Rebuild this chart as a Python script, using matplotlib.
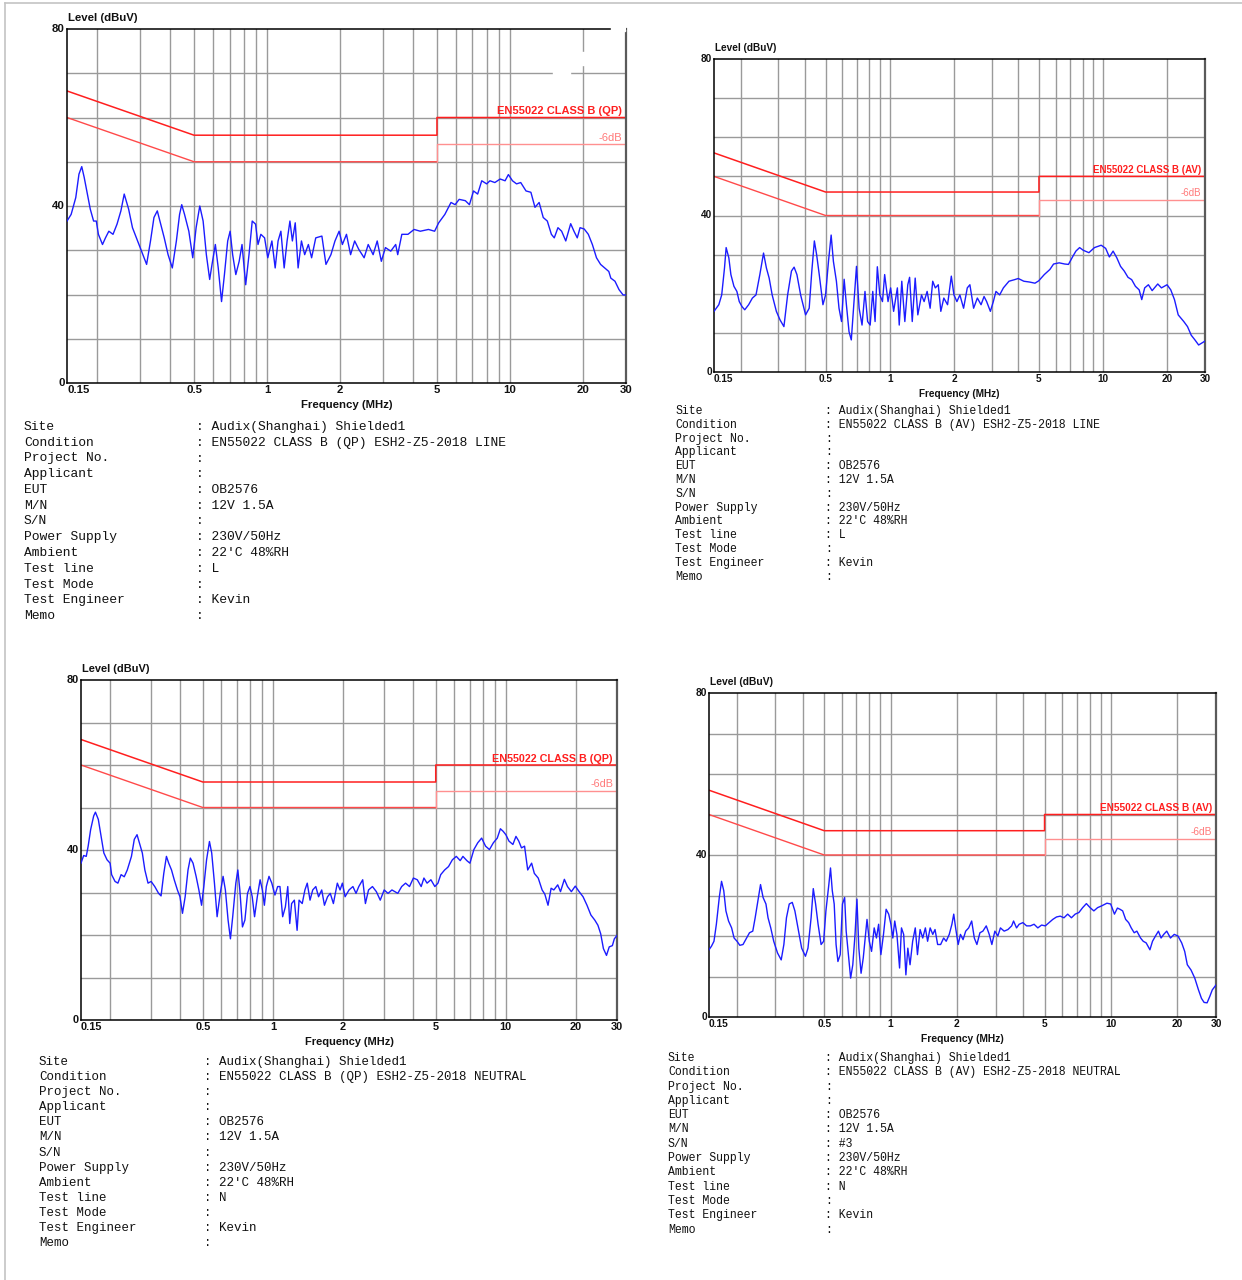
import matplotlib
matplotlib.use('Agg')
import matplotlib.pyplot as plt
from matplotlib.lines import Line2D
from matplotlib.patches import Rectangle

W, H = 1242, 1280

# ---------------- data ----------------
tl_freq = [0.150, 0.156, 0.163, 0.168, 0.1725, 0.1765, 0.182, 0.187, 0.193, 0.198,
           0.202, 0.210, 0.216, 0.223, 0.232, 0.241, 0.250, 0.258, 0.269, 0.279,
           0.293, 0.304, 0.319, 0.331, 0.342, 0.353, 0.362, 0.377, 0.391, 0.407,
           0.423, 0.436, 0.445, 0.457, 0.476, 0.494, 0.510, 0.528, 0.545, 0.562,
           0.580, 0.593, 0.612, 0.629, 0.649, 0.667, 0.688, 0.704, 0.721, 0.743,
           0.767, 0.788, 0.816, 0.842, 0.868, 0.896, 0.917, 0.942, 0.976, 1.006,
           1.046, 1.079, 1.109, 1.139, 1.175, 1.208, 1.241, 1.270, 1.305, 1.341,
           1.384, 1.427, 1.478, 1.524, 1.585, 1.680, 1.746, 1.830, 1.902, 1.978,
           2.040, 2.121, 2.205, 2.292, 2.383, 2.507, 2.606, 2.730, 2.838, 2.951,
           3.068, 3.227, 3.381, 3.447, 3.584, 3.798, 4.026, 4.269, 4.613, 4.890,
           5.083, 5.388, 5.712, 5.937, 6.172, 6.543, 6.802, 7.071, 7.353, 7.644,
           8.009, 8.261, 8.654, 9.103, 9.537, 9.839, 10.23, 10.63, 11.06, 11.63,
           12.18, 12.66, 13.17, 13.69, 14.23, 14.79, 15.20, 15.74, 16.30, 16.95,
           17.76, 18.32, 18.90, 19.41, 20.19, 20.99, 21.81, 22.68, 23.58, 24.51,
           25.49, 25.98, 27.02, 28.08, 29.19, 30.0]
tl_level = [36.6, 38.1, 41.9, 47.2, 48.9, 46.5, 42.7, 39.3, 36.6, 36.6,
            33.6, 31.3, 32.8, 34.3, 33.6, 35.9, 38.9, 42.7, 39.3, 35.1,
            32.1, 29.8, 26.8, 32.1, 37.4, 38.9, 36.6, 32.8, 29.0, 26.0,
            32.1, 38.1, 40.3, 38.1, 34.3, 28.3, 35.1, 40.0, 36.6, 29.0,
            23.4, 26.8, 31.3, 26.0, 18.4, 24.5, 32.1, 34.3, 29.0, 24.5,
            27.5, 31.3, 22.2, 29.0, 36.6, 35.9, 31.3, 33.6, 32.8, 28.3,
            32.1, 26.0, 32.1, 34.3, 26.0, 32.1, 36.6, 32.1, 36.2, 26.0,
            32.1, 29.0, 31.3, 28.3, 32.8, 33.2, 26.8, 29.0, 32.1, 34.3,
            31.3, 33.6, 29.0, 32.1, 30.2, 28.3, 31.3, 29.0, 32.1, 27.5,
            30.6, 29.8, 31.3, 29.0, 33.6, 33.6, 34.7, 34.3, 34.7, 34.3,
            36.2, 38.1, 40.8, 40.3, 41.5, 41.2, 40.3, 43.4, 42.7, 45.7,
            45.0, 45.7, 45.3, 46.1, 45.7, 47.1, 45.7, 45.0, 45.3, 43.4,
            43.1, 39.7, 40.8, 37.4, 36.6, 33.6, 32.8, 35.1, 34.3, 32.1,
            36.0, 34.3, 32.8, 35.1, 34.8, 33.6, 31.3, 28.3, 26.8, 26.0,
            25.2, 23.7, 23.0, 21.1, 19.9, 19.9]

tr_freq = [0.150, 0.158, 0.163, 0.168, 0.171, 0.176, 0.180, 0.186, 0.192, 0.197,
           0.203, 0.209, 0.218, 0.227, 0.236, 0.246, 0.256, 0.264, 0.272, 0.281,
           0.294, 0.306, 0.319, 0.332, 0.346, 0.356, 0.367, 0.382, 0.403, 0.419,
           0.431, 0.443, 0.454, 0.467, 0.486, 0.500, 0.516, 0.531, 0.544, 0.562,
           0.578, 0.594, 0.611, 0.626, 0.644, 0.660, 0.676, 0.698, 0.718, 0.741,
           0.765, 0.787, 0.809, 0.832, 0.853, 0.874, 0.898, 0.924, 0.946, 0.981,
           1.009, 1.042, 1.085, 1.107, 1.138, 1.176, 1.214, 1.238, 1.274, 1.315,
           1.353, 1.408, 1.448, 1.496, 1.545, 1.589, 1.634, 1.687, 1.734, 1.791,
           1.865, 1.942, 1.998, 2.063, 2.130, 2.217, 2.307, 2.373, 2.470, 2.572,
           2.677, 2.765, 2.843, 2.960, 3.056, 3.144, 3.272, 3.406, 3.618, 3.842,
           3.999, 4.247, 4.510, 4.790, 4.986, 5.296, 5.625, 5.855, 6.219, 6.603,
           6.874, 7.215, 7.449, 7.753, 8.070, 8.572, 9.103, 9.786, 10.27, 10.69,
           11.13, 11.58, 12.06, 12.55, 13.07, 13.60, 14.16, 14.74, 15.16, 15.65,
           16.29, 16.96, 18.02, 18.75, 19.92, 20.73, 21.58, 22.47, 23.86, 24.84,
           25.86, 26.91, 28.01, 28.81, 30.0]
tr_level = [15.5, 17.2, 19.7, 26.6, 31.8, 29.2, 24.9, 21.9, 20.6, 18.0,
            16.7, 15.9, 17.2, 18.9, 19.7, 24.9, 30.4, 26.6, 24.0, 19.7,
            15.5, 13.3, 11.6, 19.7, 25.8, 26.8, 24.9, 19.7, 14.6, 16.3,
            25.8, 33.5, 30.0, 24.9, 17.2, 19.7, 28.3, 35.0, 28.3, 23.2,
            16.3, 12.9, 23.7, 17.2, 10.3, 8.2, 16.3, 27.0, 16.3, 12.0,
            20.6, 12.9, 12.0, 20.6, 12.9, 26.9, 19.7, 18.0, 24.9, 18.0,
            21.5, 15.5, 21.5, 12.0, 23.2, 12.9, 22.3, 24.2, 12.9, 24.0,
            14.6, 19.7, 18.0, 20.6, 16.3, 23.2, 21.5, 22.3, 15.5, 18.9,
            17.2, 24.5, 19.7, 18.0, 19.7, 16.3, 21.5, 22.3, 16.3, 18.9,
            17.2, 19.3, 18.0, 15.5, 18.0, 20.6, 19.7, 21.5, 23.2, 23.6,
            23.9, 23.2, 23.0, 22.7, 23.3, 24.9, 26.2, 27.6, 27.9, 27.6,
            27.5, 29.6, 30.9, 31.8, 31.1, 30.5, 31.8, 32.4, 31.6, 29.4,
            30.9, 29.2, 27.0, 25.8, 24.2, 23.6, 21.9, 21.0, 18.5, 21.5,
            22.3, 20.8, 22.5, 21.5, 22.3, 21.0, 18.5, 14.6, 12.9, 11.6,
            9.4, 8.2, 6.9, 7.3, 7.9]

bl_freq = [0.150, 0.154, 0.158, 0.161, 0.165, 0.170, 0.173, 0.178, 0.183, 0.188,
           0.194, 0.200, 0.203, 0.210, 0.216, 0.223, 0.230, 0.237, 0.247, 0.254,
           0.261, 0.267, 0.275, 0.282, 0.291, 0.300, 0.311, 0.323, 0.331, 0.340,
           0.349, 0.357, 0.367, 0.377, 0.389, 0.399, 0.409, 0.420, 0.432, 0.442,
           0.454, 0.468, 0.481, 0.494, 0.505, 0.519, 0.534, 0.546, 0.561, 0.576,
           0.594, 0.611, 0.625, 0.642, 0.657, 0.672, 0.693, 0.707, 0.721, 0.740,
           0.758, 0.778, 0.797, 0.815, 0.834, 0.857, 0.881, 0.901, 0.919, 0.937,
           0.962, 0.989, 1.020, 1.048, 1.072, 1.101, 1.131, 1.158, 1.181, 1.203,
           1.236, 1.270, 1.295, 1.336, 1.372, 1.404, 1.443, 1.482, 1.528, 1.570,
           1.620, 1.664, 1.716, 1.763, 1.818, 1.890, 1.942, 1.987, 2.041, 2.122,
           2.205, 2.274, 2.337, 2.429, 2.495, 2.573, 2.675, 2.780, 2.889, 3.003,
           3.120, 3.243, 3.436, 3.571, 3.711, 3.858, 4.009, 4.166, 4.330, 4.449,
           4.589, 4.767, 4.956, 5.111, 5.252, 5.459, 5.673, 5.895, 6.128, 6.369,
           6.542, 6.800, 7.011, 7.289, 7.575, 7.872, 8.183, 8.504, 8.839, 9.186,
           9.474, 9.734, 9.999, 10.31, 10.72, 11.05, 11.36, 11.67, 12.03, 12.41,
           12.90, 13.25, 13.77, 14.31, 14.70, 15.17, 15.64, 16.07, 16.70, 17.16,
           17.83, 18.39, 19.11, 19.86, 20.64, 21.45, 22.30, 23.18, 24.09, 24.84,
           25.53, 26.23, 27.04, 27.78, 28.66, 29.22, 30.0]
bl_level = [36.9, 38.7, 38.5, 40.9, 44.8, 48.0, 48.9, 47.2, 43.2, 39.3,
            37.7, 36.9, 34.2, 32.6, 32.2, 34.2, 33.7, 35.3, 38.5, 42.5,
            43.6, 41.7, 39.3, 35.3, 32.2, 32.6, 31.4, 29.8, 29.2, 34.5,
            38.5, 36.9, 35.3, 33.0, 30.6, 29.0, 25.1, 29.0, 35.3, 38.1,
            36.9, 33.8, 30.6, 27.0, 31.4, 37.7, 42.0, 39.3, 32.2, 24.3,
            29.8, 33.8, 30.6, 23.5, 19.1, 24.3, 32.2, 35.3, 30.6, 21.9,
            23.5, 29.8, 31.4, 29.0, 24.3, 29.0, 33.0, 30.6, 27.0, 31.4,
            33.8, 32.2, 29.4, 31.4, 31.4, 24.3, 26.6, 31.4, 22.7, 27.4,
            28.2, 21.1, 28.2, 27.4, 30.6, 32.2, 28.2, 30.6, 31.4, 29.0,
            30.6, 27.0, 29.0, 29.8, 27.4, 32.2, 30.6, 32.2, 29.0, 30.6,
            31.4, 29.8, 31.4, 33.0, 27.4, 30.6, 31.4, 30.2, 28.2, 30.6,
            29.8, 30.6, 29.8, 31.4, 32.2, 31.4, 33.4, 33.0, 31.4, 33.4,
            32.2, 33.0, 31.4, 32.2, 34.2, 35.3, 36.1, 37.7, 38.5, 37.5,
            38.5, 37.5, 36.9, 40.1, 41.7, 42.8, 40.9, 40.1, 41.7, 42.8,
            45.0, 44.4, 43.6, 42.1, 41.3, 43.2, 42.1, 40.5, 40.9, 35.3,
            36.9, 34.5, 33.4, 30.6, 29.6, 27.0, 31.0, 30.6, 31.8, 30.2,
            33.1, 31.4, 30.2, 31.5, 30.2, 29.0, 27.0, 24.7, 23.5, 22.3,
            20.3, 16.8, 15.2, 17.2, 17.5, 19.1, 19.9]

br_freq = [0.150, 0.154, 0.158, 0.162, 0.167, 0.171, 0.175, 0.179, 0.184, 0.190,
           0.195, 0.201, 0.207, 0.214, 0.222, 0.229, 0.237, 0.243, 0.250, 0.257,
           0.264, 0.272, 0.278, 0.286, 0.295, 0.307, 0.319, 0.328, 0.337, 0.347,
           0.358, 0.368, 0.380, 0.395, 0.411, 0.422, 0.436, 0.446, 0.457, 0.469,
           0.484, 0.497, 0.509, 0.525, 0.534, 0.544, 0.555, 0.566, 0.577, 0.591,
           0.605, 0.619, 0.629, 0.644, 0.659, 0.674, 0.690, 0.704, 0.718, 0.735,
           0.752, 0.767, 0.782, 0.801, 0.820, 0.843, 0.863, 0.883, 0.904, 0.929,
           0.955, 0.981, 1.004, 1.024, 1.045, 1.069, 1.099, 1.121, 1.147, 1.174,
           1.198, 1.226, 1.260, 1.295, 1.325, 1.362, 1.400, 1.439, 1.473, 1.513,
           1.555, 1.592, 1.636, 1.688, 1.742, 1.789, 1.847, 1.899, 1.936, 1.974,
           2.028, 2.076, 2.134, 2.193, 2.263, 2.335, 2.400, 2.466, 2.545, 2.625,
           2.719, 2.805, 2.883, 2.975, 3.069, 3.153, 3.279, 3.411, 3.546, 3.617,
           3.731, 3.834, 3.987, 4.145, 4.310, 4.482, 4.661, 4.847, 5.040, 5.241,
           5.450, 5.666, 5.891, 6.125, 6.369, 6.622, 6.886, 7.160, 7.446, 7.742,
           8.049, 8.370, 8.703, 9.051, 9.596, 9.979, 10.38, 10.71, 11.00, 11.31,
           11.67, 12.04, 12.37, 12.76, 13.12, 13.64, 14.02, 14.46, 15.04, 15.45,
           15.94, 16.44, 16.90, 17.37, 17.93, 18.64, 19.39, 20.16, 20.96, 21.63,
           22.23, 23.11, 24.03, 24.98, 25.77, 26.49, 27.33, 28.08, 28.86, 30.0]
br_level = [16.6, 17.5, 18.7, 22.9, 29.5, 33.5, 31.2, 26.2, 23.7, 22.0,
            19.5, 18.7, 17.7, 17.9, 19.5, 20.8, 21.2, 24.5, 28.7, 32.7,
            29.5, 27.9, 24.5, 22.0, 18.7, 15.8, 14.1, 17.9, 24.5, 27.9,
            28.3, 26.2, 22.0, 17.0, 15.0, 17.0, 24.5, 31.7, 27.9, 22.9,
            17.9, 18.7, 26.2, 32.8, 36.8, 31.2, 27.9, 17.9, 13.7, 15.4,
            27.9, 29.5, 21.2, 15.4, 9.6, 12.9, 20.4, 29.1, 17.0, 10.8,
            14.6, 19.5, 24.1, 18.7, 16.2, 22.0, 19.5, 22.9, 15.4, 20.4,
            26.6, 25.4, 22.9, 19.5, 23.7, 20.4, 12.1, 22.0, 20.4, 10.4,
            17.0, 12.9, 18.7, 22.0, 15.4, 21.6, 19.5, 22.0, 18.7, 22.0,
            20.4, 21.6, 17.9, 17.9, 19.5, 18.7, 20.4, 22.9, 25.4, 22.0,
            17.9, 20.4, 19.1, 21.2, 22.0, 23.7, 19.5, 17.9, 20.8, 21.2,
            22.5, 20.4, 17.9, 21.2, 20.0, 22.0, 21.2, 21.6, 22.5, 23.7,
            22.0, 22.9, 23.3, 22.5, 22.5, 22.9, 22.0, 22.7, 22.5, 23.3,
            24.1, 24.7, 24.9, 24.5, 25.4, 24.5, 25.4, 25.8, 27.0, 28.0,
            27.0, 26.2, 27.0, 27.4, 28.1, 27.9, 25.4, 26.9, 26.6, 26.2,
            24.1, 23.3, 22.0, 20.8, 21.2, 19.5, 18.7, 18.3, 16.6, 18.7,
            20.0, 21.2, 19.5, 20.4, 21.2, 19.5, 20.4, 20.0, 18.3, 16.2,
            12.9, 11.6, 9.6, 6.7, 4.6, 3.6, 3.5, 5.0, 6.7, 7.9]

# limit lines (EN55022 class B)
limit_freq = [0.15, 0.5, 5, 5, 30]
qp_limit = [66, 56, 56, 60, 60]
qp_margin = [60, 50, 50, 54, 54]
av_limit = [56, 46, 46, 50, 50]
av_margin = [50, 40, 40, 44, 44]

x_tick_vals = [0.15, 0.5, 1, 2, 5, 10, 20, 30]
x_tick_labels = ['0.15', '0.5', '1', '2', '5', '10', '20', '30']
x_grid = [0.2, 0.3, 0.4, 0.5, 0.6, 0.7, 0.8, 0.9, 1, 2, 3, 4, 5, 6, 7, 8, 9, 10, 20]
y_grid = [10, 20, 30, 40, 50, 60, 70]
y_tick_vals = [0, 40, 80]

info_keys = ['Site', 'Condition', 'Project No.', 'Applicant', 'EUT', 'M/N', 'S/N',
             'Power Supply', 'Ambient', 'Test line', 'Test Mode', 'Test Engineer', 'Memo']
info_tl = ['Audix(Shanghai) Shielded1', 'EN55022 CLASS B (QP) ESH2-Z5-2018 LINE', '', '',
           'OB2576', '12V 1.5A', '', '230V/50Hz', "22'C 48%RH", 'L', '', 'Kevin', '']
info_tr = ['Audix(Shanghai) Shielded1', 'EN55022 CLASS B (AV) ESH2-Z5-2018 LINE', '', '',
           'OB2576', '12V 1.5A', '', '230V/50Hz', "22'C 48%RH", 'L', '', 'Kevin', '']
info_bl = ['Audix(Shanghai) Shielded1', 'EN55022 CLASS B (QP) ESH2-Z5-2018 NEUTRAL', '', '',
           'OB2576', '12V 1.5A', '', '230V/50Hz', "22'C 48%RH", 'N', '', 'Kevin', '']
info_br = ['Audix(Shanghai) Shielded1', 'EN55022 CLASS B (AV) ESH2-Z5-2018 NEUTRAL', '', '',
           'OB2576', '12V 1.5A', '#3', '230V/50Hz', "22'C 48%RH", 'N', '', 'Kevin', '']

# ---------------- drawing ----------------
fig = plt.figure(figsize=(W / 100, H / 100), dpi=100)
fig.patch.set_facecolor('white')
PT = 0.72  # points per pixel
SANS = 'Liberation Sans'
MONO = 'Liberation Mono'
TXT = '#111111'


def panel(box, freq, level, lim, marg, lim_label, fs):
    L, T, R, B = box
    ax = fig.add_axes([L / W, 1 - B / H, (R - L) / W, (B - T) / H])
    ax.set_xscale('log')
    ax.set_xlim(0.15, 30)
    ax.set_ylim(0, 80)
    ax.set_xticks([])
    ax.set_yticks([])
    ax.xaxis.set_minor_locator(matplotlib.ticker.NullLocator())
    for v in x_grid:
        ax.axvline(v, color='#9a9a9a', lw=1.0, zorder=1)
    for v in y_grid:
        ax.axhline(v, color='#9a9a9a', lw=1.0, zorder=1)
    ax.plot(limit_freq, lim, color='#ff1f1f', lw=1.1, zorder=2)
    ax.plot(limit_freq[:3], marg[:3], color='#ff4a4a', lw=1.0, zorder=2)
    ax.plot(limit_freq[2:], marg[2:], color='#ff9090', lw=1.0, zorder=2)
    ax.plot(freq, level, color='#1c1cff', lw=1.0, zorder=3)
    for s in ['left', 'top', 'bottom']:
        ax.spines[s].set_color('black')
        ax.spines[s].set_linewidth(1.1)
    ax.spines['right'].set_color('#5a5a5a')
    ax.spines['right'].set_linewidth(1.6)
    # x tick labels
    for v, t in zip(x_tick_vals, x_tick_labels):
        ha = 'left' if v == 0.15 else 'center'
        ax.annotate(t, xy=(v, 0), xycoords=('data', 'axes fraction'),
                    xytext=(0, -7 * PT), textcoords='offset points',
                    ha=ha, va='center', fontsize=fs, fontweight='bold',
                    family=SANS, color=TXT, annotation_clip=False)
    for v in y_tick_vals:
        ax.annotate(str(v), xy=(0, v), xycoords=('axes fraction', 'data'),
                    xytext=(-2 * PT, 0), textcoords='offset points',
                    ha='right', va='center', fontsize=fs, fontweight='bold',
                    family=SANS, color=TXT, annotation_clip=False)
    ax.annotate('Level (dBuV)', xy=(0, 1), xycoords='axes fraction',
                xytext=(1 * PT, 11 * PT), textcoords='offset points',
                ha='left', va='center', fontsize=fs, fontweight='bold',
                family=SANS, color=TXT, annotation_clip=False)
    ax.annotate('Frequency (MHz)', xy=(0.5, 0), xycoords='axes fraction',
                xytext=(0, -22 * PT), textcoords='offset points',
                ha='center', va='center', fontsize=fs, fontweight='bold',
                family=SANS, color=TXT, annotation_clip=False)
    ax.annotate(lim_label, xy=(1, lim[-1]), xycoords=('axes fraction', 'data'),
                xytext=(-4 * PT, 1.5 * PT), textcoords='offset points',
                ha='right', va='bottom', fontsize=fs * 0.98, fontweight='bold',
                family=SANS, color='#ff1f1f', annotation_clip=False)
    ax.annotate('-6dB', xy=(1, marg[-1]), xycoords=('axes fraction', 'data'),
                xytext=(-4 * PT, 1.5 * PT), textcoords='offset points',
                ha='right', va='bottom', fontsize=fs * 0.98,
                family=SANS, color='#ff7a7a', annotation_clip=False)
    return ax


def info(xk, xc, y0, dy, fs, values):
    for i, (k, v) in enumerate(zip(info_keys, values)):
        y = 1 - (y0 + i * dy) / H
        fig.text(xk / W, y, k, fontsize=fs, family=MONO, color=TXT, ha='left', va='center')
        fig.text(xc / W, y, (': ' + v) if v else ':', fontsize=fs, family=MONO,
                 color=TXT, ha='left', va='center')


ax_tl = panel((67, 29, 626, 383), tl_freq, tl_level, qp_limit, qp_margin,
              'EN55022 CLASS B (QP)', 8.2)
ax_tr = panel((714, 59, 1205, 372), tr_freq, tr_level, av_limit, av_margin,
              'EN55022 CLASS B (AV)', 7.2)
ax_bl = panel((81, 680, 617, 1020), bl_freq, bl_level, qp_limit, qp_margin,
              'EN55022 CLASS B (QP)', 7.9)
ax_br = panel((709, 693, 1216, 1017), br_freq, br_level, av_limit, av_margin,
              'EN55022 CLASS B (AV)', 7.4)

info(24, 196, 427, 15.75, 9.4, info_tl)
info(675, 825, 411, 13.8, 8.3, info_tr)
info(39, 204, 1062, 15.1, 9.0, info_bl)
info(668, 825, 1058, 14.3, 8.3, info_br)

# page frame lines
fig.add_artist(Line2D([5 / W, 1.0], [1 - 3 / H, 1 - 3 / H], color='#c4c4c4', lw=1.2))
fig.add_artist(Line2D([5 / W, 5 / W], [0.0, 1 - 3 / H], color='#c4c4c4', lw=1.2))

# small erased patches in the top-left chart
fig.add_artist(Rectangle((611 / W, 1 - 31 / H), 14 / W, 4 / H, color='white', zorder=10))
fig.add_artist(Rectangle((553 / W, 1 - 76 / H), 17 / W, 6 / H, color='white', zorder=10))
fig.add_artist(Rectangle((580 / W, 1 - 65 / H), 6 / W, 13 / H, color='white', zorder=10))

fig.savefig('out.png', dpi=100, facecolor='white')
